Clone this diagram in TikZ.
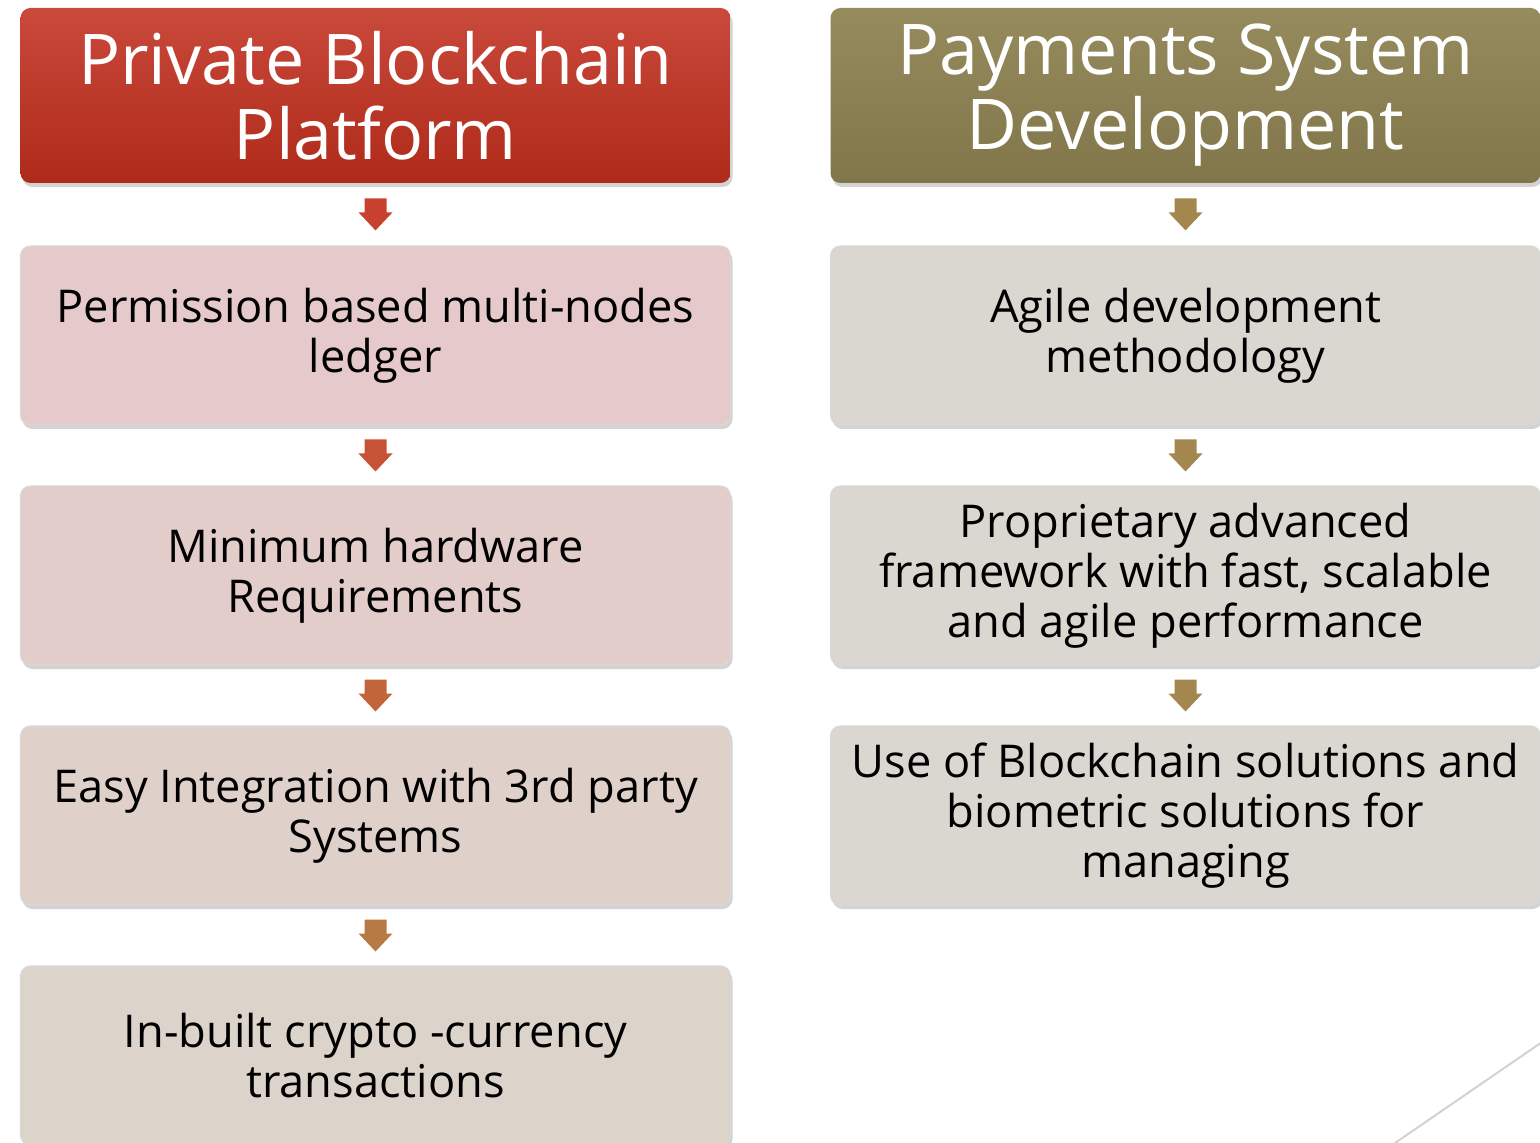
\documentclass[tikz,border=0pt]{standalone}
\usepackage{fontspec}
\setmainfont{Open Sans}
\usetikzlibrary{shadows,calc}
\definecolor{hlTop}{HTML}{C9493B}
\definecolor{hlBot}{HTML}{AF2A19}
\definecolor{hrTop}{HTML}{968B5D}
\definecolor{hrBot}{HTML}{80764A}
\definecolor{bA}{HTML}{E6C9CB}
\definecolor{bB}{HTML}{E3CDCA}
\definecolor{bC}{HTML}{DFD0CA}
\definecolor{bD}{HTML}{DCD3CA}
\definecolor{bR}{HTML}{DAD6D0}
\definecolor{aA}{HTML}{C8412E}
\definecolor{aB}{HTML}{C65335}
\definecolor{aC}{HTML}{C2653A}
\definecolor{aD}{HTML}{B87A45}
\definecolor{aR}{HTML}{A3874F}
\tikzset{
  basebox/.style={rounded corners=5pt, minimum width=355pt, align=center,
    drop shadow={opacity=0.35, shadow xshift=1pt, shadow yshift=-2pt}},
  hdr/.style={basebox, minimum height=87.5pt, text=white,
    font=\fontsize{35}{37.5}\selectfont},
  item/.style={basebox, minimum height=89.5pt, text=black, draw=white!85!black, line width=0.6pt,
    font=\fontsize{22.6}{25}\selectfont},
  pics/darr/.style={code={\fill[#1] (-11,-16) -- (11,-16) -- (11,-2) -- (17,-2) -- (0,16) -- (-17,-2) -- (-11,-2) -- cycle;}}
}
\begin{document}
\begin{tikzpicture}[x=0.5pt,y=-0.5pt]
\useasboundingbox (0,0) rectangle (1540,1143);
\clip (0,0) rectangle (1540,1143);
% left column
\node[hdr, top color=hlTop, bottom color=hlBot] (h1) at (375.5,95.5) {Private Blockchain\\Platform};
\node[item, fill=bA] (l1) at (375.5,335.5) {Permission based multi-nodes\\ledger};
\node[item, fill=bB] (l2) at (375.5,575.5) {Minimum hardware\\Requirements};
\node[item, fill=bC] (l3) at (375.5,815.5) {Easy Integration with 3rd party\\Systems};
\node[item, fill=bD] (l4) at (375.5,1055.5) {In-built crypto -currency\\transactions};
% right column
\node[hdr, top color=hrTop, bottom color=hrBot] (h2) at (1185.5,95.5) {Payments System\\Development};
\node[item, fill=bR] (r1) at (1185.5,335.5) {Agile development\\methodology};
\node[item, fill=bR] (r2) at (1185.5,575.5) {Proprietary advanced\\framework with fast, scalable\\and agile performance};
\node[item, fill=bR] (r3) at (1185.5,815.5) {Use of Blockchain solutions and\\biometric solutions for\\managing};
% arrows
\pic at ($(h1.south)!0.5!(l1.north)$) {darr=aA};
\pic at ($(l1.south)!0.5!(l2.north)$) {darr=aB};
\pic at ($(l2.south)!0.5!(l3.north)$) {darr=aC};
\pic at ($(l3.south)!0.5!(l4.north)$) {darr=aD};
\pic at ($(h2.south)!0.5!(r1.north)$) {darr=aR};
\pic at ($(r1.south)!0.5!(r2.north)$) {darr=aR};
\pic at ($(r2.south)!0.5!(r3.north)$) {darr=aR};
% decorative line
\coordinate (d1) at (1395,1143);
\coordinate (d2) at (1545,1040);
\draw[gray!35, line width=1pt] (d1) -- (d2);
\end{tikzpicture}
\end{document}
